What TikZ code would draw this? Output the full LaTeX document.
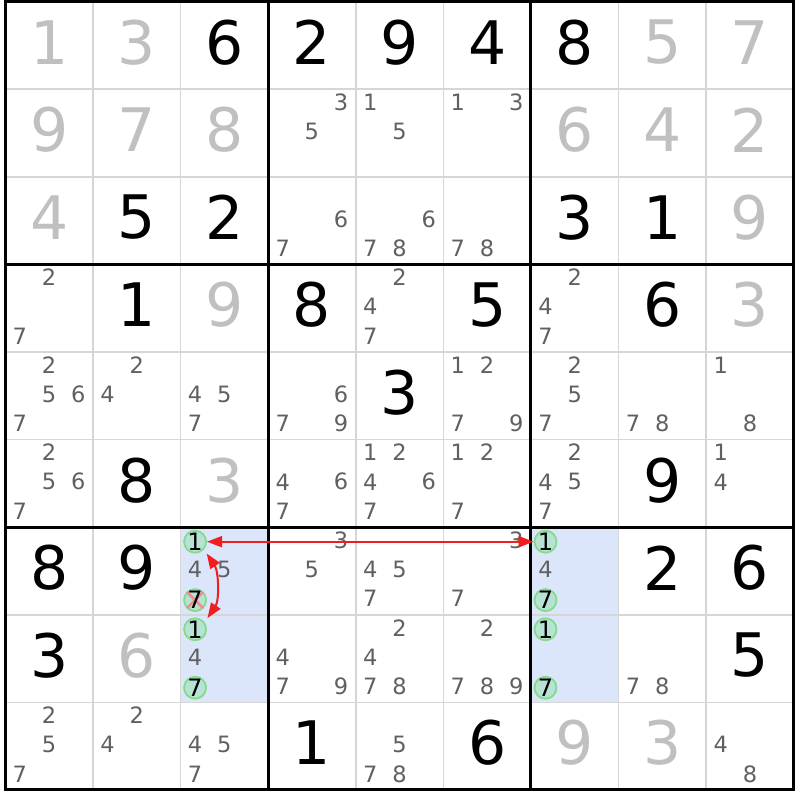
\documentclass[tikz,border=0pt]{standalone}
\usepackage{fontspec}
\setmainfont{DejaVu Sans}
\usetikzlibrary{arrows.meta,calc}
\definecolor{candgray}{RGB}{96,96,96}
\definecolor{givgray}{RGB}{192,192,192}
\definecolor{hlblue}{RGB}{220,230,250}
\definecolor{thingray}{RGB}{214,214,214}
\definecolor{circfill}{RGB}{184,226,212}
\definecolor{circline}{RGB}{130,220,140}
\definecolor{arrred}{RGB}{240,30,30}
\definecolor{xred}{RGB}{240,140,140}
\begin{document}
\begin{tikzpicture}[x=1pt,y=-1pt,
  bigblack/.style={font=\fontsize{60}{60}\selectfont, inner sep=0pt, text=black},
  biggray/.style={font=\fontsize{60}{60}\selectfont, inner sep=0pt, text=givgray},
  candtxt/.style={font=\fontsize{22.5}{22.5}\selectfont, inner sep=0pt, text=candgray},
  candblack/.style={font=\fontsize{24}{24}\selectfont, inner sep=0pt, text=black},
  circmark/.style={circle, minimum size=22pt, inner sep=0pt, draw=circline, line width=1.8pt, fill=circfill},
  thinline/.style={draw=thingray, line width=1.6pt},
  thickline/.style={draw=black, line width=3pt},
  redarrow/.style={draw=arrred, line width=2pt, {Triangle[length=15pt,width=11pt]}-{Triangle[length=15pt,width=11pt]}},
  xline/.style={draw=xred, line width=2.5pt}
]
\useasboundingbox (0,0) rectangle (800,800);
\fill[white] (0,0) rectangle (800,800);
% highlighted cells
\foreach \r/\c in {6/2,7/2,6/6,7/6}{
  \fill[hlblue] ({5.3+\c*87.6},{1.5+\r*87.6}) rectangle ++(87.6,87.6);
}
% thin lines
\foreach \i in {1,2,4,5,7,8}{
  \draw[thinline] ({5.3+\i*87.6},1.5) -- ({5.3+\i*87.6},789.9);
  \draw[thinline] (5.3,{1.5+\i*87.6}) -- (793.7,{1.5+\i*87.6});
}
% thick lines
\foreach \i in {0,3,6,9}{
  \draw[thickline] ({5.3+\i*87.6},0) -- ({5.3+\i*87.6},791.4);
  \draw[thickline] (3.8,{1.5+\i*87.6}) -- (795.2,{1.5+\i*87.6});
}
% given digits (black)
\foreach \r/\c/\d [count=\k] in {0/2/6,0/3/2,0/4/9,0/5/4,0/6/8,
  2/1/5,2/2/2,2/6/3,2/7/1,
  3/1/1,3/3/8,3/5/5,3/7/6,
  4/4/3,5/1/8,5/7/9,
  6/0/8,6/1/9,6/7/2,6/8/6,
  7/0/3,7/8/5,
  8/3/1,8/5/6}{
  \node[bigblack] (gb\k) at ({5.3+(\c+0.5)*87.6},{1.5+(\r+0.5)*87.6-3}) {\d};
}
% solved digits (gray)
\foreach \r/\c/\d [count=\k] in {0/0/1,0/1/3,0/7/5,0/8/7,
  1/0/9,1/1/7,1/2/8,1/6/6,1/7/4,1/8/2,
  2/0/4,2/8/9,
  3/2/9,3/8/3,
  5/2/3,
  7/1/6,
  8/6/9,8/7/3}{
  \node[biggray] (gg\k) at ({5.3+(\c+0.5)*87.6},{1.5+(\r+0.5)*87.6-3}) {\d};
}
% candidates (gray)
\foreach \r/\c/\l in {1/3/{3,5},1/4/{1,5},1/5/{1,3},
  2/3/{6,7},2/4/{6,7,8},2/5/{7,8},
  3/0/{2,7},3/4/{2,4,7},3/6/{2,4,7},
  4/0/{2,5,6,7},4/1/{2,4},4/2/{4,5,7},4/3/{6,7,9},4/5/{1,2,7,9},4/6/{2,5,7},4/7/{7,8},4/8/{1,8},
  5/0/{2,5,6,7},5/3/{4,6,7},5/4/{1,2,4,6,7},5/5/{1,2,7},5/6/{2,4,5,7},5/8/{1,4},
  6/2/{4,5},6/3/{3,5},6/4/{4,5,7},6/5/{3,7},6/6/{4},
  7/2/{4},7/3/{4,7,9},7/4/{2,4,7,8},7/5/{2,7,8,9},7/7/{7,8},
  8/0/{2,5,7},8/1/{2,4},8/2/{4,5,7},8/4/{5,7,8},8/8/{4,8}}{
  \foreach \d in \l {
    \pgfmathtruncatemacro{\cc}{mod(\d-1,3)}
    \pgfmathtruncatemacro{\rr}{div(\d-1,3)}
    \node[candtxt] (c\r\c\d) at ({5.3+\c*87.6+(\cc+0.5)*29.2},{1.5+\r*87.6+(\rr+0.5)*29.2-1.5}) {\d};
  }
}
% circled candidates
\foreach \r/\c/\d in {6/2/1,6/2/7,7/2/1,7/2/7,6/6/1,6/6/7,7/6/1,7/6/7}{
  \pgfmathtruncatemacro{\cc}{mod(\d-1,3)}
  \pgfmathtruncatemacro{\rr}{div(\d-1,3)}
  \node[circmark] (k\r\c\d) at ({5.3+\c*87.6+(\cc+0.5)*29.2},{1.5+\r*87.6+(\rr+0.5)*29.2}) {};
}
% elimination cross
\draw[xline] ($(k627)+(-8,-8)$) -- ($(k627)+(8,8)$);
\draw[xline] ($(k627)+(-8,8)$) -- ($(k627)+(8,-8)$);
% circled digits
\foreach \r/\c/\d in {6/2/1,6/2/7,7/2/1,7/2/7,6/6/1,6/6/7,7/6/1,7/6/7}{
  \node[candblack] (t\r\c\d) at (k\r\c\d) {\d};
}
% arrows
\draw[redarrow] (k621) -- (k661);
\coordinate (cs) at ($(k621)+(11.6,11.8)$);
\coordinate (ce) at ($(k721)+(12.4,-11.2)$);
\draw[redarrow] (cs) .. controls +(12,18) and +(12,-18) .. (ce);
\end{tikzpicture}
\end{document}
